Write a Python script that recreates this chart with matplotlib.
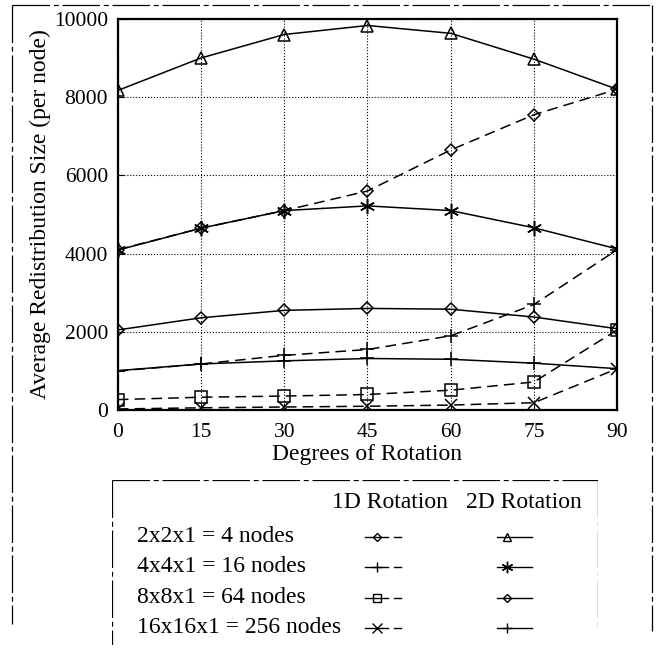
import matplotlib
matplotlib.use("Agg")
import matplotlib.pyplot as plt
from matplotlib.lines import Line2D

plt.rcParams['font.family'] = ['Liberation Serif', 'DejaVu Serif']

degrees = [0, 15, 30, 45, 60, 75, 90]

# 1D rotation (dashed lines)
d1_4 = [4100, 4650, 5100, 5600, 6650, 7550, 8200]
d1_16 = [1000, 1180, 1400, 1550, 1900, 2700, 4100]
d1_64 = [270, 330, 360, 400, 510, 720, 2050]
d1_256 = [30, 60, 80, 100, 130, 190, 1060]

# 2D rotation (solid lines)
d2_4 = [8170, 9000, 9600, 9830, 9630, 8970, 8200]
d2_16 = [4090, 4650, 5100, 5220, 5100, 4660, 4120]
d2_64 = [2050, 2360, 2550, 2600, 2580, 2380, 2080]
d2_256 = [1010, 1180, 1260, 1320, 1300, 1200, 1060]

row_labels = ["2x2x1 = 4 nodes", "4x4x1 = 16 nodes",
              "8x8x1 = 64 nodes", "16x16x1 = 256 nodes"]

ast = (6, 2, 0)
series_1d = [(d1_4, 'D'), (d1_16, '+'), (d1_64, 's'), (d1_256, 'x')]
series_2d = [(d2_4, '^'), (d2_16, ast), (d2_64, 'D'), (d2_256, '+')]
msz = {'D': 6, '+': 10, 's': 8, 'x': 9, '^': 8, ast: 11}

fig = plt.figure(figsize=(6.58, 6.5), dpi=100)
ax = fig.add_axes([0.179, 0.369, 0.759, 0.602])

for vals, m in series_2d:
    ax.plot(degrees, vals, color='black', lw=1.1, marker=m, ms=msz[m],
            mfc='none', mec='black', mew=1.1)
for vals, m in series_1d:
    ax.plot(degrees, vals, color='black', lw=1.1, dashes=(7, 4), marker=m,
            ms=msz[m], mfc='none', mec='black', mew=1.1)

ax.set_xlim(0, 90)
ax.set_ylim(0, 10000)
ax.set_xticks(degrees)
ax.set_yticks([0, 2000, 4000, 6000, 8000, 10000])
ax.grid(True, color='black', linestyle=':', lw=0.8)
ax.tick_params(direction='in', length=4, labelsize=15.5)
ax.tick_params(axis='x', pad=9)
ax.tick_params(axis='y', pad=7)
for s in ax.spines.values():
    s.set_linewidth(1.6)
ax.set_xlabel("Degrees of Rotation", fontsize=17, labelpad=2)
ax.set_ylabel("Average Redistribution Size (per node)", fontsize=17, labelpad=2)

# outer frame around the whole figure
frame = dict(color='black', lw=0.9, dashes=(30, 3, 4, 3), transform=fig.transFigure)
fig.add_artist(Line2D([0.018, 0.993], [0.992, 0.992], **frame))
fig.add_artist(Line2D([0.018, 0.018], [0.992, 0.04], **frame))
fig.add_artist(Line2D([0.991, 0.991], [0.992, 0.03], **frame))

# legend table
lax = fig.add_axes([0.170, 0.008, 0.739, 0.254])
lax.set_xlim(0, 486)
lax.set_ylim(165, 0)
lax.axis('off')
box = dict(color='black', lw=0.9, dashes=(30, 3, 4, 3))
lax.plot([0, 486], [0, 0], **box)
lax.plot([0, 0], [0, 165], **box)
lax.plot([486, 486], [0, 150], **box)

lax.text(278, 23, "1D Rotation", fontsize=17, ha='center', va='center')
lax.text(412, 23, "2D Rotation", fontsize=17, ha='center', va='center')
row_y = [57, 87, 118, 148]
for i, lab in enumerate(row_labels):
    y = row_y[i]
    lax.text(25, y, lab, fontsize=17, ha='left', va='center')
    m1 = series_1d[i][1]
    lax.plot([253, 276], [y, y], color='black', lw=1.0)
    lax.plot([282, 289], [y, y], color='black', lw=1.0)
    lax.plot([265], [y], marker=m1, ms=msz[m1] * 0.75, mfc='none',
             mec='black', mew=1.0, color='black')
    m2 = series_2d[i][1]
    lax.plot([385, 420], [y, y], color='black', lw=1.0)
    lax.plot([395], [y], marker=m2, ms=msz[m2] * 0.75, mfc='none',
             mec='black', mew=1.0, color='black')

fig.savefig("out.png", dpi=100)
